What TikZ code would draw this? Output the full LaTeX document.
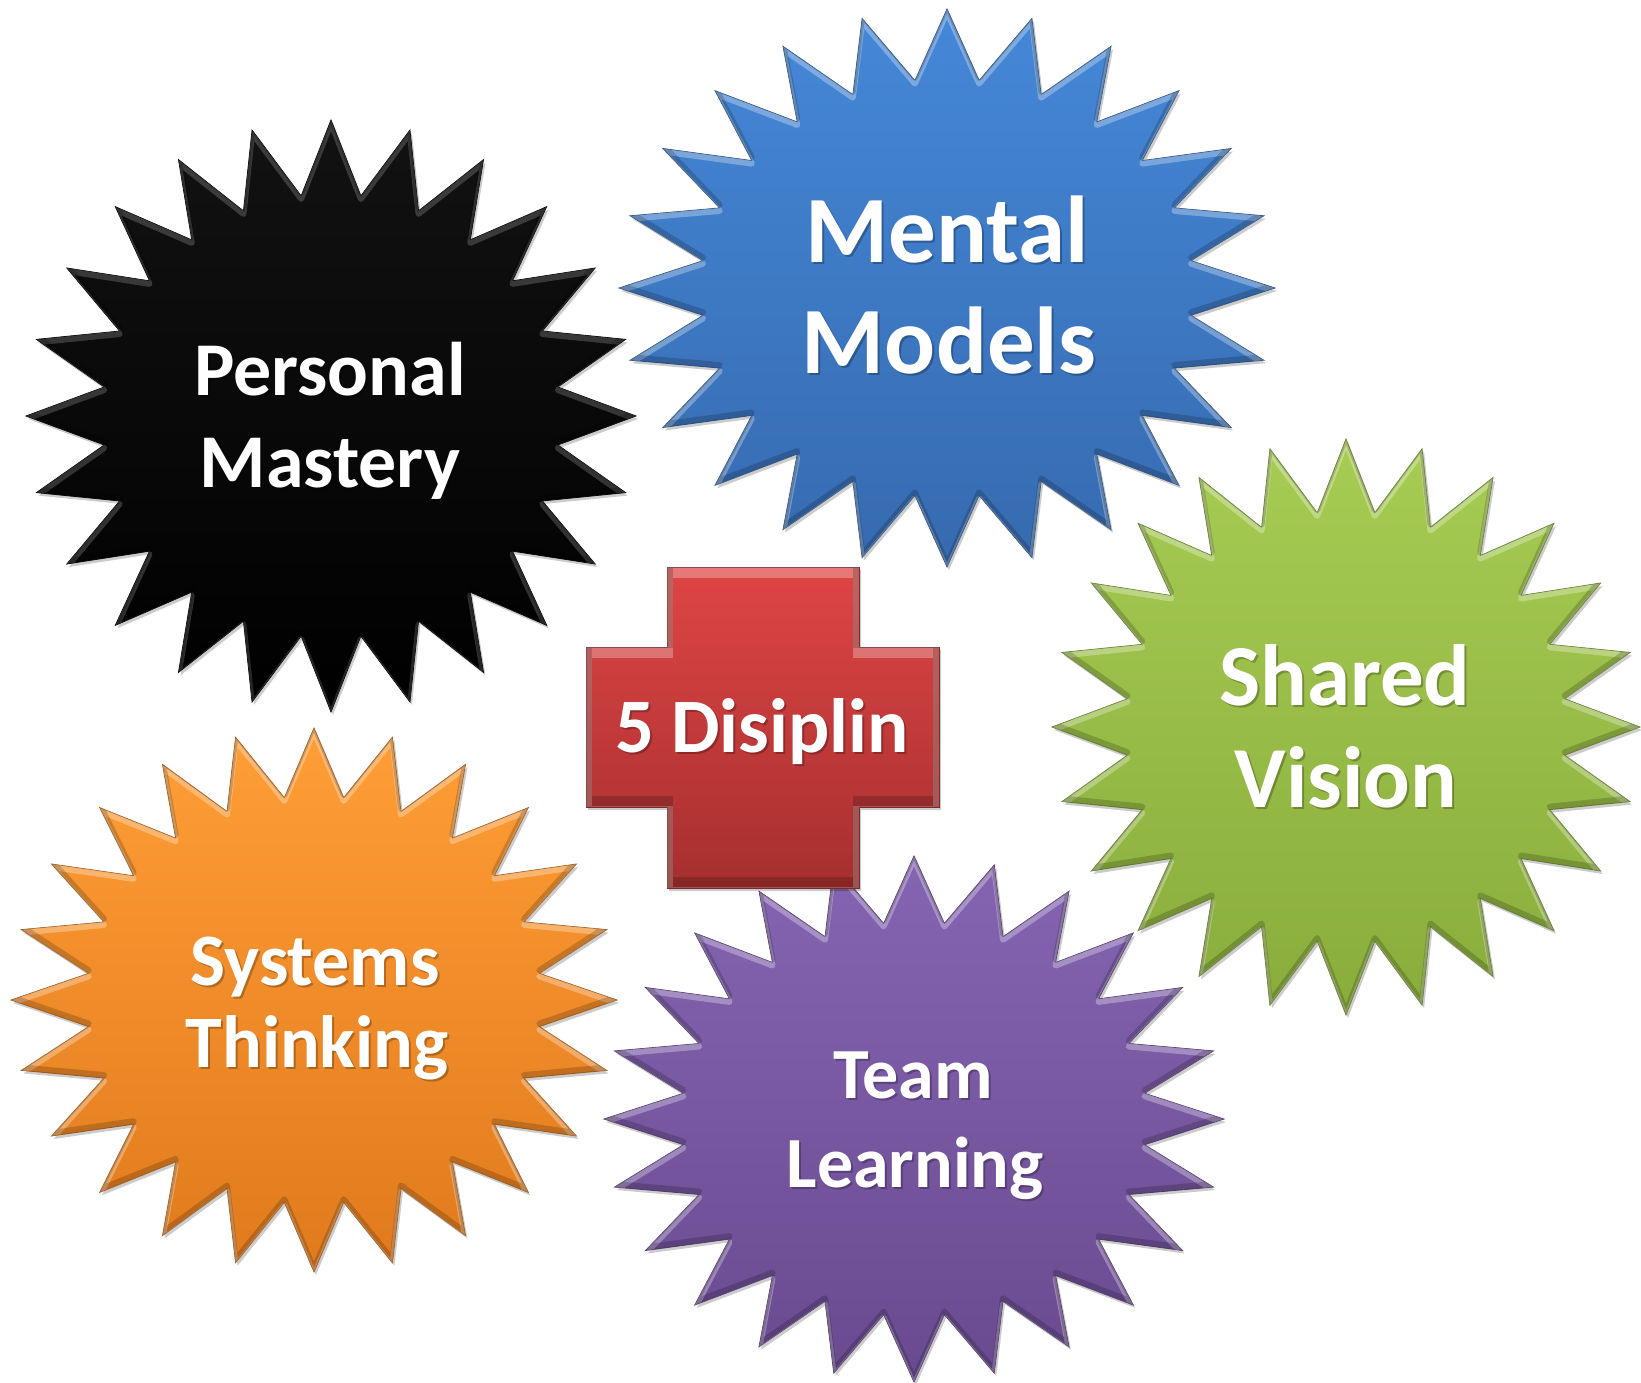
\documentclass[tikz,border=0pt]{standalone}
\usepackage{fontspec}
\setmainfont{Carlito}
\usetikzlibrary{shadows}
\tikzset{
  starpath/.style n args={4}{insert path={plot[samples=49,domain=0:48,variable=\k]
      ({#1+#3*(1-0.25*mod(\k,2))*cos(90+7.5*\k)},{#2-#4*(1-0.25*mod(\k,2))*sin(90+7.5*\k)}) -- cycle}},
  crosspath/.style={insert path={(667,567) -- (859,567) -- (859,647) -- (939,647) -- (939,807) -- (859,807)
      -- (859,888) -- (667,888) -- (667,807) -- (586,807) -- (586,647) -- (667,647) -- cycle}},
  shapeshadow/.style={drop shadow={shadow xshift=2pt,shadow yshift=-3pt,opacity=.2,fill=black}},
  hilite/.style={draw=white, line width=#1, line join=round, fill=none},
  lbl/.style={text=white, font=\bfseries, anchor=base, inner sep=0pt},
  lblsh/.style={text=black, text opacity=0.25, font=\bfseries, anchor=base, inner sep=0pt},
}
\definecolor{blkT}{HTML}{121212}\definecolor{blkB}{HTML}{000000}
\definecolor{bluT}{HTML}{4588D8}\definecolor{bluB}{HTML}{366AAF}
\definecolor{grnT}{HTML}{A7CC53}\definecolor{grnB}{HTML}{89AC3C}
\definecolor{orgT}{HTML}{FF9E36}\definecolor{orgB}{HTML}{E07A1D}
\definecolor{purT}{HTML}{8565B2}\definecolor{purB}{HTML}{694A8F}
\definecolor{redT}{HTML}{DF4545}\definecolor{redB}{HTML}{A62F2F}
% cx cy rx ry top bottom highlight-opacity
\newcommand\bevstar[7]{%
  \path[shapeshadow, top color=#5, bottom color=#6, draw=#6!75!black, line width=0.8pt, starpath={#1}{#2}{#3}{#4}];
  \begin{scope}
    \clip[starpath={#1}{#2}{#3}{#4}];
    \draw[hilite=6pt, draw opacity=#7, yshift=-3pt, starpath={#1}{#2}{#3}{#4}];
    \draw[hilite=6pt, draw=black, draw opacity=.18, yshift=3pt, starpath={#1}{#2}{#3}{#4}];
  \end{scope}}
\newcommand\lbltext[5]{% name x y size text
  \node[lblsh, font=\fontsize{#4}{#4}\selectfont\bfseries] (#1-s) at (#2+2,#3+2.5) {#5};
  \node[lbl, font=\fontsize{#4}{#4}\selectfont\bfseries] (#1) at (#2,#3) {#5};}
\begin{document}
\begin{tikzpicture}[x=1pt,y=-1pt]
\useasboundingbox (0,0) rectangle (1641,1383);
% stars
\bevstar{331}{416}{305}{296}{blkT}{blkB}{.18}
\bevstar{947}{288}{328}{279}{bluT}{bluB}{.3}
\bevstar{1346}{727}{294}{288}{grnT}{grnB}{.3}
\bevstar{314}{1000}{303}{272}{orgT}{orgB}{.3}
\bevstar{914}{1119}{310}{263}{purT}{purB}{.3}
% cross
\path[shapeshadow, top color=redT, bottom color=redB, draw=redB!75!black, line width=0.8pt, crosspath];
\begin{scope}
  \clip[crosspath];
  \draw[hilite=12pt, draw opacity=.28, line join=miter, yshift=-5pt, crosspath];
  \draw[hilite=12pt, draw=black, draw opacity=.18, line join=miter, yshift=5pt, crosspath];
\end{scope}
% labels
\lbltext{pm1}{330}{395}{76}{Personal}
\lbltext{pm2}{330}{487}{76}{Mastery}
\lbltext{mm1}{947}{262}{95}{Mental}
\lbltext{mm2}{949}{373}{95}{Models}
\lbltext{sv1}{1345}{705}{87}{Shared}
\lbltext{sv2}{1346}{807}{87}{Vision}
\lbltext{st1}{315}{985}{74}{Systems}
\lbltext{st2}{317}{1067}{74}{Thinking}
\lbltext{tl1}{913}{1098}{72}{Team}
\lbltext{tl2}{915}{1187}{72}{Learning}
\lbltext{fd}{762}{752}{77}{5 Disiplin}
\end{tikzpicture}
\end{document}
